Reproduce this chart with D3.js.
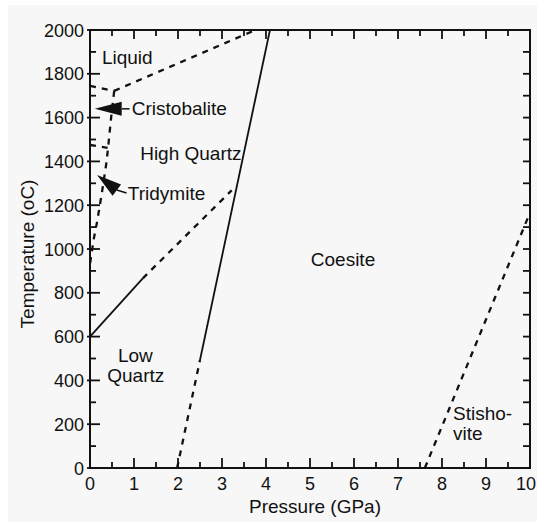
<!DOCTYPE html>
<html>
<head>
<meta charset="utf-8">
<script src="https://cdn.jsdelivr.net/npm/d3@7"></script>
<style>
  html, body { margin: 0; padding: 0; background: #ffffff; }
  svg { display: block; }
  text { font-family: "Liberation Sans", Arial, Helvetica, sans-serif; fill: #111; }
</style>
</head>
<body>
<svg id="chart" width="537" height="522"></svg>
<script>
// ---- Data (Pressure in GPa, Temperature in °C) ----
const xTickValues = [0, 1, 2, 3, 4, 5, 6, 7, 8, 9, 10];
const yTickValues = [0, 200, 400, 600, 800, 1000, 1200, 1400, 1600, 1800, 2000];

// phase boundaries
const lowHighQuartzSolid  = [[0, 600], [1.2, 866]];
const lowHighQuartzDashed = [[1.2, 866], [3.22, 1268]];
const quartzCoesiteDashed = [[1.98, 0], [2.5, 493]];
const quartzCoesiteSolid  = [[2.5, 493], [4.09, 2000]];
const liquidusDashed      = [[0.55, 1722], [3.76, 2000]];
const cristLiquidDashed   = [[0, 1745], [0.55, 1722]];
const highQuartzLowPDashed = [[0.55, 1722], [0.48, 1600], [0.41, 1460], [0.37, 1390],
                              [0.27, 1256], [0.16, 1123], [0.08, 1040], [0, 930]];
const cristTridDashed     = [[0, 1475], [0.4, 1462]];
const stishoviteDashed    = [[7.61, 0], [10, 1166]];

// region labels: [text, P, T, anchor]
const phaseLabels = [
  ["Liquid", 0.27, 1877, "start"],
  ["Cristobalite", 0.95, 1644, "start"],
  ["High Quartz", 1.14, 1438, "start"],
  ["Tridymite", 0.86, 1256, "start"],
  ["Coesite", 5.75, 954, "middle"],
  ["Low", 1.03, 516, "middle"],
  ["Quartz", 1.04, 425, "middle"],
  ["Stisho-", 8.25, 251, "start"],
  ["vite", 8.25, 160, "start"]
];

// arrows: tip [P,T], base [P,T], tail-line end [P,T]
const arrowTips  = [[0.11, 1640], [0.16, 1338]];
const arrowBases = [[0.72, 1640], [0.61, 1269]];
const arrowEnds  = [[0.90, 1640], [0.83, 1256]];

// ---- Layout ----
const svg = d3.select("#chart");
const W = 537, H = 522;
const x = d3.scaleLinear().domain([0, 10]).range([90, 530]);
const y = d3.scaleLinear().domain([0, 2000]).range([468, 30]);

svg.append("rect").attr("x", 8).attr("y", 5).attr("width", W - 8).attr("height", H - 5)
  .attr("fill", "#f7f7f7");

svg.append("clipPath").attr("id", "plotclip").append("rect")
  .attr("x", x(0)).attr("y", y(2000)).attr("width", x(10) - x(0)).attr("height", y(0) - y(2000));

const line = d3.line().x(d => x(d[0])).y(d => y(d[1]));
const g = svg.append("g").attr("clip-path", "url(#plotclip)");

function draw(data, dashed) {
  g.append("path").datum(data).attr("d", line)
    .attr("fill", "none").attr("stroke", "#111")
    .attr("stroke-width", dashed ? 2.3 : 1.8)
    .attr("stroke-dasharray", dashed ? "6,6" : null);
}
draw(lowHighQuartzSolid, false);
draw(lowHighQuartzDashed, true);
draw(quartzCoesiteDashed, true);
draw(quartzCoesiteSolid, false);
draw(liquidusDashed, true);
draw(cristLiquidDashed, true);
draw(highQuartzLowPDashed, true);
draw(cristTridDashed, true);
draw(stishoviteDashed, true);

// ---- Frame and ticks ----
svg.append("rect").attr("x", x(0)).attr("y", y(2000))
  .attr("width", x(10) - x(0)).attr("height", y(0) - y(2000))
  .attr("fill", "none").attr("stroke", "#111").attr("stroke-width", 2);

const ticks = svg.append("g").attr("stroke", "#111").attr("stroke-width", 1.8);
const xMinor = d3.range(0, 10.01, 0.5);
xMinor.forEach(v => {
  const major = Math.abs(v - Math.round(v)) < 1e-6;
  ticks.append("line").attr("x1", x(v)).attr("x2", x(v))
    .attr("y1", y(0)).attr("y2", y(0) - (major ? 10 : 6));
  ticks.append("line").attr("x1", x(v)).attr("x2", x(v))
    .attr("y1", y(2000)).attr("y2", y(2000) + (major ? 9 : 6));
});
const yMinor = d3.range(0, 2001, 100);
yMinor.forEach(v => {
  const major = v % 200 === 0;
  ticks.append("line").attr("y1", y(v)).attr("y2", y(v))
    .attr("x1", x(0) - (major ? 3 : 0)).attr("x2", x(0) + (major ? 10 : 6));
  ticks.append("line").attr("y1", y(v)).attr("y2", y(v))
    .attr("x1", x(10)).attr("x2", x(10) - 7);
});

// tick labels (last one kept inside the window)
svg.append("g").selectAll("text").data(xTickValues).join("text")
  .attr("x", d => d === 10 ? W - 1 : x(d)).attr("y", 490)
  .attr("text-anchor", d => d === 10 ? "end" : "middle").attr("font-size", 18)
  .text(d => d);
svg.append("g").selectAll("text").data(yTickValues).join("text")
  .attr("x", x(0) - 6).attr("y", d => y(d)).attr("dy", "0.37em")
  .attr("text-anchor", "end").attr("font-size", 18)
  .text(d => d);

// axis titles
svg.append("text").attr("x", 315).attr("y", 513)
  .attr("text-anchor", "middle").attr("font-size", 19)
  .text("Pressure (GPa)");
svg.append("text").attr("transform", "translate(34,254) rotate(-90)")
  .attr("text-anchor", "middle").attr("font-size", 19)
  .text("Temperature (oC)");

// region labels
svg.append("g").selectAll("text").data(phaseLabels).join("text")
  .attr("x", d => x(d[1])).attr("y", d => y(d[2])).attr("dy", "0.36em")
  .attr("text-anchor", d => d[3]).attr("font-size", 19)
  .text(d => d[0]);

// arrows
arrowTips.forEach((tip, i) => {
  const base = arrowBases[i], end = arrowEnds[i];
  const tx = x(tip[0]), ty = y(tip[1]);
  const bx = x(base[0]), by = y(base[1]);
  const dx = bx - tx, dy = by - ty, len = Math.hypot(dx, dy);
  const nx = -dy / len, ny = dx / len, hw = 7;
  svg.append("path")
    .attr("d", `M${tx},${ty}L${bx + nx * hw},${by + ny * hw}L${bx - nx * hw},${by - ny * hw}Z`)
    .attr("fill", "#111");
  svg.append("line").attr("x1", bx).attr("y1", by)
    .attr("x2", x(end[0])).attr("y2", y(end[1]))
    .attr("stroke", "#111").attr("stroke-width", 1.5);
});
</script>
</body>
</html>
